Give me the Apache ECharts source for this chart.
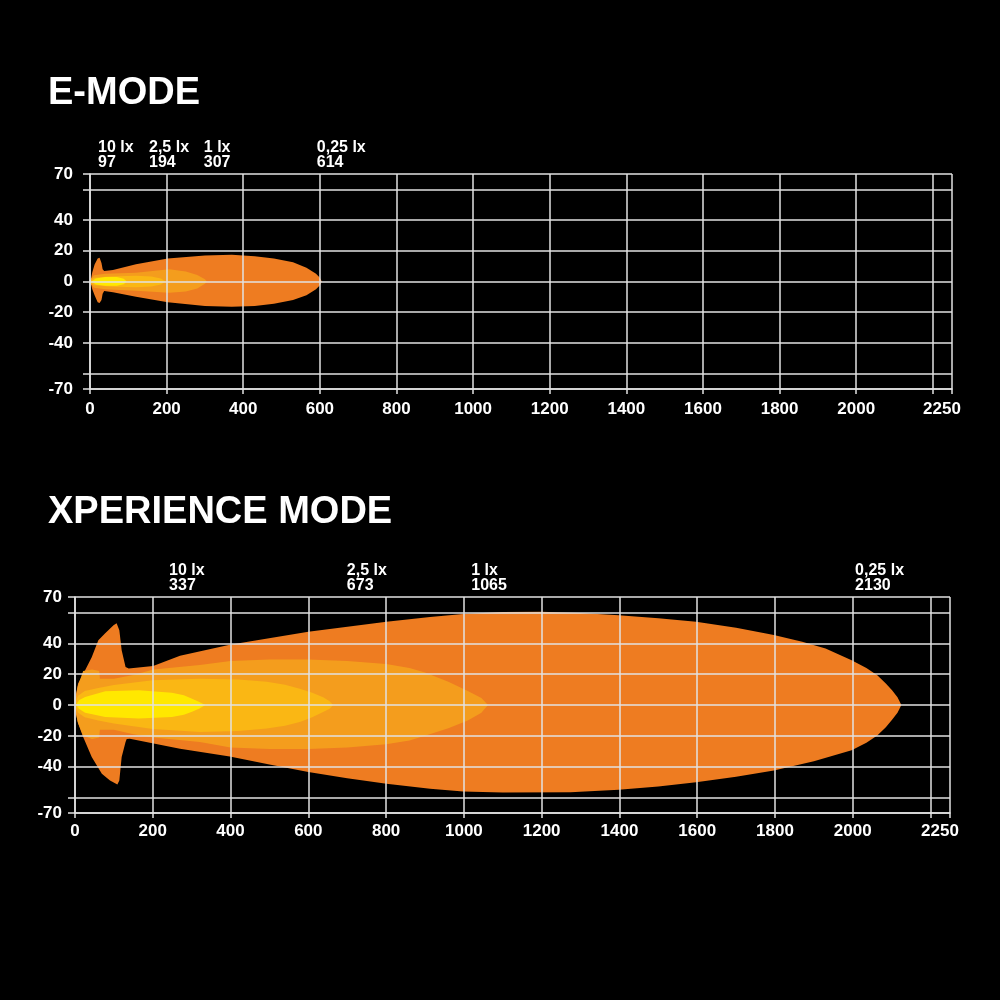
<!DOCTYPE html>
<html>
<head>
<meta charset="utf-8">
<script src="https://cdn.jsdelivr.net/npm/echarts@6/dist/echarts.min.js"></script>
<style>
  html, body { margin: 0; padding: 0; background: #000; }
  #chart { width: 1000px; height: 1000px; }
</style>
</head>
<body>
<div id="chart"></div>
<script>
// ---------- titles ----------
const titleE = 'E-MODE';
const titleX = 'XPERIENCE MODE';

// ---------- axes ----------
const xTickValues = [0, 200, 400, 600, 800, 1000, 1200, 1400, 1600, 1800, 2000, 2200, 2250];
const xLabelValues = [0, 200, 400, 600, 800, 1000, 1200, 1400, 1600, 1800, 2000, 2250];
const yTickValues = [-70, -60, -40, -20, 0, 20, 40, 60, 70];
const yLabelValues = [70, 40, 20, 0, -20, -40, -70];

// ---------- lux annotations ----------
const luxNames = ['10 lx', '2,5 lx', '1 lx', '0,25 lx'];
const eDistances = [97, 194, 307, 614];
const eLabelAt = [21, 154, 297, 592];
const xDistances = [337, 673, 1065, 2130];
const xLabelAt = [242, 699, 1019, 2006];

// ---------- E-MODE isolux zones [distance m, width m] ----------
const eZone025 = [[2,1],[6,6],[12,11],[20,15],[25,15.5],[30,12],[33,8],[37,6.8],[60,7.5],[120,11.2],[203,15],[300,17],[370,17.5],[430,16.5],[480,15],[530,12.5],[565,9],[590,5],[600,2.5],[605,0],
  [600,-2.5],[590,-5],[565,-9],[530,-12],[480,-14.5],[430,-16],[370,-16.5],[300,-16],[203,-13.5],[120,-10],[60,-7],[37,-6.2],[33,-8],[30,-12],[25,-14],[20,-13.5],[12,-9],[6,-5],[2,-1]];
const eZone1 = [[0,1],[10,4],[40,5],[120,5.7],[207,7.9],[250,6.5],[280,4.2],[300,1.5],[305,0],
  [300,-1.5],[280,-4.5],[250,-6.5],[207,-7.3],[120,-6],[40,-5],[10,-4],[0,-1]];
const eZone25 = [[0,0.5],[10,2.5],[50,3.3],[120,3.7],[160,3.2],[185,2],[197,0],
  [185,-2],[160,-3.2],[120,-3.7],[50,-3.3],[10,-2.5],[0,-0.5]];
const eZone10 = [[4,0],[15,2],[40,3],[70,3],[88,1.8],[96,0],
  [88,-1.8],[70,-2.8],[40,-2.8],[15,-2]];

// ---------- XPERIENCE MODE isolux zones ----------
const xZone025 = [[0,3],[1,5],[8,14],[26,22.5],[43,31],[60,42],[77,46.3],[99,51.7],[107,53],[114,48.5],[120,35.5],[130,24.7],[138,23.6],[201,25.3],[270,32],[398,39],[600,47.4],[801,54],[913,57],[998,59],[1100,60.2],[1198,60.4],[1300,59.7],[1398,58.2],[1500,56.3],[1597,53.9],[1700,50],[1797,45.3],[1870,41],[1930,36.6],[1997,29],[2035,24],[2063,19.3],[2085,14],[2101,9.5],[2115,5],[2125,0],
  [2115,-5],[2101,-9.5],[2085,-14.5],[2063,-19.7],[2035,-24.5],[1997,-29.4],[1900,-36.5],[1797,-42.4],[1700,-46.5],[1597,-50],[1500,-52.8],[1398,-55],[1274,-56.5],[1100,-56.7],[998,-56],[913,-54.3],[801,-51],[700,-47.5],[600,-43.5],[500,-38.5],[398,-33.3],[270,-28.3],[141,-21.8],[133,-22],[130,-24],[120,-33.7],[114,-48.9],[109,-51.5],[90,-49],[69,-44.5],[43,-33.7],[21,-20.8],[8,-12],[0,-3]];
const xZone1 = [[0,2],[7,12],[21,22],[44,23],[62,22],[64,17],[100,17],[150,19.5],[202,23],[321,26],[400,28.5],[500,29.5],[600,29.5],[700,28.5],[800,26.5],[860,24],[900,21],[960,15],[1010,9],[1045,4.5],[1062,0],
  [1045,-5],[1010,-10],[960,-15],[900,-20],[860,-23],[800,-25.5],[700,-27.5],[600,-28.5],[500,-28.5],[400,-27.5],[321,-24],[202,-21],[150,-19],[100,-16],[64,-16],[62,-21],[44,-22],[21,-20],[7,-11],[0,-2]];
const xZone25 = [[0,1],[8,6],[25,9],[60,11],[100,13],[200,16],[321,17],[420,16.5],[493,15],[540,13.2],[578,10.6],[610,8],[638,5],[655,2.5],[664,0],
  [655,-2.5],[638,-4.5],[610,-8],[578,-11],[540,-13.5],[493,-15.3],[420,-16.8],[321,-17.5],[200,-15.5],[100,-12],[60,-10],[25,-8],[8,-5],[0,-1]];
const xZone10 = [[3,0],[10,3],[26,5.2],[78,8.9],[164,9.5],[249,8],[280,6.3],[301,4.1],[320,2],[335,0],
  [320,-2.2],[301,-4.3],[280,-6.3],[249,-7.8],[164,-8.8],[78,-7.8],[26,-5],[10,-2.5]];

// ---------- styling ----------
const COL025 = '#ee7c21', COL1 = '#f49d1d', COL25 = '#fab714', COL10 = '#ffe800';
const GRIDCOL = '#e2e2e2';
const FONT = '"Liberation Sans", Arial, sans-serif';

function zoneSeries(pts, color, idx) {
  return {
    type: 'custom', xAxisIndex: idx, yAxisIndex: idx, silent: true, z: 2,
    data: pts, encode: { x: 0, y: 1 },
    renderItem: function (params, api) {
      if (params.dataIndex !== 0) return null;
      return { type: 'polygon', shape: { points: pts.map(p => api.coord(p)) }, style: { fill: color } };
    }
  };
}

function luxSeries(labelAt, distances, idx) {
  return {
    type: 'scatter', xAxisIndex: idx, yAxisIndex: idx, silent: true, z: 10, clip: false,
    symbolSize: 1, itemStyle: { color: 'rgba(0,0,0,0)' },
    data: labelAt.map((x, i) => ({ value: [x, 70], name: luxNames[i] + '\n' + distances[i] })),
    label: {
      show: true, position: 'top', align: 'left', distance: 3, opacity: 1,
      formatter: p => p.name, color: '#ffffff', fontFamily: FONT, fontWeight: 'bold',
      fontSize: 16, lineHeight: 15
    },
    labelLayout: { hideOverlap: false }
  };
}

function xAxisDef(idx, margin) {
  return {
    type: 'value', gridIndex: idx, min: 0, max: 2250, z: 5,
    axisLine: { show: true, onZero: false, lineStyle: { color: GRIDCOL, width: 1.5 } },
    axisTick: { show: true, length: 5, customValues: xTickValues, lineStyle: { color: GRIDCOL, width: 1.5 } },
    splitLine: { show: true, lineStyle: { color: GRIDCOL, width: 1.5 } },
    axisLabel: {
      customValues: xLabelValues, margin: margin, color: '#fff', fontFamily: FONT,
      fontWeight: 'bold', fontSize: 17,
      formatter: v => v === 2250 ? '{r|2250}' : String(v),
      rich: { r: { color: '#fff', fontFamily: FONT, fontWeight: 'bold', fontSize: 17, padding: [0, 20, 0, 0] } }
    }
  };
}
function yAxisDef(idx, margin) {
  return {
    type: 'value', gridIndex: idx, min: -70, max: 70, z: 5,
    axisLine: { show: true, onZero: false, lineStyle: { color: GRIDCOL, width: 1.5 } },
    axisTick: { show: true, length: 7, customValues: yTickValues, lineStyle: { color: GRIDCOL, width: 1.5 } },
    splitLine: { show: true, lineStyle: { color: GRIDCOL, width: 1.5 } },
    axisLabel: {
      customValues: yLabelValues, margin: margin, color: '#fff', fontFamily: FONT,
      fontWeight: 'bold', fontSize: 17
    }
  };
}

const chart = echarts.init(document.getElementById('chart'), null, { renderer: 'canvas' });
chart.setOption({
  backgroundColor: '#000',
  animation: false,
  graphic: [
    { type: 'text', x: 48, y: 94, style: { text: titleE, fill: '#fff', font: 'bold 38px ' + FONT, verticalAlign: 'middle' } },
    { type: 'text', x: 48, y: 513, style: { text: titleX, fill: '#fff', font: 'bold 38px ' + FONT, verticalAlign: 'middle' } }
  ],
  grid: [
    { left: 90, right: 48, top: 174, height: 215 },
    { left: 75, right: 50, top: 597, height: 216 }
  ],
  xAxis: [xAxisDef(0, 12), xAxisDef(1, 10)],
  yAxis: [yAxisDef(0, 17), yAxisDef(1, 13)],
  series: [
    zoneSeries(eZone025, COL025, 0),
    zoneSeries(eZone1, COL1, 0),
    zoneSeries(eZone25, COL25, 0),
    zoneSeries(eZone10, COL10, 0),
    luxSeries(eLabelAt, eDistances, 0),
    zoneSeries(xZone025, COL025, 1),
    zoneSeries(xZone1, COL1, 1),
    zoneSeries(xZone25, COL25, 1),
    zoneSeries(xZone10, COL10, 1),
    luxSeries(xLabelAt, xDistances, 1)
  ]
});
</script>
</body>
</html>
